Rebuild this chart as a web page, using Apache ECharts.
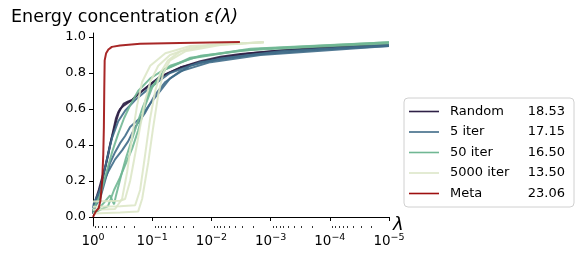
<!DOCTYPE html>
<html><head><meta charset="utf-8">
<script src="https://cdn.jsdelivr.net/npm/echarts@6/dist/echarts.min.js"></script>
<style>html,body{margin:0;padding:0;background:#fff}#c{width:581px;height:254px}</style>
</head><body><div id="c"></div>
<script>
// ---- data (lambda, energy concentration) ----
const groupNames = ['Random', '5 iter', '50 iter', '5000 iter', 'Meta'];
const groupScores = ['18.53', '17.15', '16.50', '13.50', '23.06'];
const groupColors = ['#2e2046', '#3f6b88', '#70b793', '#dde7c8', '#9e0f0f'];
const xTickValues = [1, 0.1, 0.01, 0.001, 0.0001, 0.00001];
const yTickValues = [0, 0.2, 0.4, 0.6, 0.8, 1.0];

const random_a = [[1,0.02],[0.962,0.05],[0.914,0.09],[0.8,0.15],[0.7,0.22],[0.619,0.28],[0.55,0.36],[0.5,0.42],[0.446,0.48],[0.4,0.54],[0.367,0.58],[0.33,0.61],[0.302,0.63],[0.26,0.64],[0.218,0.65],[0.18,0.68],[0.148,0.7],[0.1,0.745],[0.0734,0.78],[0.05,0.805],[0.0335,0.83],[0.0154,0.865],[0.00703,0.89],[0.00322,0.905],[0.00148,0.915],[0.00068,0.925],[0.00031,0.932],[0.000142,0.94],[0.00005,0.947],[0.00001,0.955]];
const random_b = [[1,0.02],[0.962,0.04],[0.855,0.1],[0.761,0.16],[0.677,0.22],[0.626,0.27],[0.557,0.34],[0.515,0.4],[0.476,0.45],[0.441,0.5],[0.408,0.55],[0.377,0.58],[0.349,0.6],[0.298,0.62],[0.255,0.635],[0.218,0.65],[0.187,0.67],[0.148,0.7],[0.1,0.745],[0.06,0.79],[0.0335,0.83],[0.0154,0.86],[0.00703,0.885],[0.00218,0.91],[0.00068,0.925],[0.000142,0.94],[0.00001,0.953]];

const iter5_a = [[1,0.02],[0.962,0.04],[0.761,0.15],[0.602,0.3],[0.476,0.44],[0.377,0.53],[0.287,0.59],[0.194,0.65],[0.108,0.72],[0.05,0.8],[0.0154,0.86],[0.00218,0.9],[0.000142,0.93],[0.00001,0.95]];
const iter5_b = [[1,0.03],[0.962,0.05],[0.761,0.1],[0.626,0.2],[0.515,0.3],[0.424,0.36],[0.349,0.41],[0.287,0.45],[0.236,0.5],[0.16,0.55],[0.108,0.63],[0.073,0.7],[0.05,0.77],[0.0227,0.84],[0.00703,0.88],[0.00068,0.92],[0.00001,0.955]];
const iter5_c = [[1,0.05],[0.962,0.08],[0.761,0.15],[0.557,0.25],[0.424,0.32],[0.323,0.37],[0.255,0.42],[0.194,0.5],[0.131,0.58],[0.089,0.68],[0.06,0.75],[0.0335,0.81],[0.0104,0.86],[0.00148,0.9],[0.00001,0.95]];

const iter50_a = [[1,0.03],[0.962,0.05],[0.761,0.12],[0.602,0.24],[0.476,0.36],[0.377,0.46],[0.298,0.55],[0.236,0.62],[0.173,0.7],[0.108,0.77],[0.05,0.84],[0.0154,0.895],[0.00148,0.935],[0.00001,0.97]];
const iter50_b = [[1,0.02],[0.889,0.03],[0.651,0.08],[0.515,0.12],[0.441,0.07],[0.408,0.12],[0.323,0.25],[0.276,0.33],[0.236,0.4],[0.187,0.5],[0.148,0.6],[0.108,0.71],[0.06,0.82],[0.0227,0.88],[0.00322,0.925],[0.00001,0.965]];
const iter50_c = [[1,0.02],[0.761,0.04],[0.557,0.06],[0.441,0.15],[0.349,0.22],[0.276,0.3],[0.218,0.38],[0.173,0.48],[0.131,0.62],[0.1,0.72],[0.06,0.82],[0.0227,0.885],[0.00218,0.935],[0.00001,0.97]];

const iter5000_a = [[1,0.086],[0.349,0.09],[0.287,0.1],[0.236,0.2],[0.194,0.35],[0.16,0.5],[0.131,0.65],[0.108,0.75],[0.079,0.84],[0.05,0.9],[0.0227,0.94],[0.00703,0.96],[0.00131,0.97]];
const iter5000_b = [[1,0.057],[0.349,0.06],[0.194,0.065],[0.16,0.15],[0.131,0.35],[0.108,0.55],[0.089,0.7],[0.073,0.8],[0.054,0.87],[0.0335,0.92],[0.0104,0.955],[0.00131,0.97]];
const iter5000_c = [[1,0.02],[0.349,0.025],[0.173,0.03],[0.148,0.1],[0.117,0.3],[0.096,0.5],[0.079,0.68],[0.065,0.8],[0.05,0.87],[0.0276,0.92],[0.00703,0.955],[0.00131,0.97]];
const iter5000_d = [[1,0.04],[0.424,0.045],[0.323,0.1],[0.265,0.25],[0.218,0.45],[0.18,0.62],[0.148,0.75],[0.108,0.84],[0.06,0.91],[0.0227,0.95],[0.00131,0.97]];

const meta = [[1,0],[0.962,0.01],[0.9,0.03],[0.8,0.05],[0.75,0.09],[0.7,0.2],[0.67,0.35],[0.655,0.5],[0.645,0.71],[0.635,0.87],[0.6,0.91],[0.55,0.93],[0.48,0.945],[0.35,0.953],[0.16,0.962],[0.034,0.967],[0.0033,0.972]];

const groups = [
  [random_a, random_b],
  [iter5_a, iter5_b, iter5_c],
  [iter50_a, iter50_b, iter50_c],
  [iter5000_a, iter5000_b, iter5000_c, iter5000_d],
  [meta]
];

// minor tick positions (2..9 x 10^k)
const minorTicks = [];
for (let k = 1; k <= 5; k++) for (let m = 2; m <= 9; m++) minorTicks.push(m * Math.pow(10, -k));

const FONT = 'DejaVu Sans';
const series = [];
groups.forEach((lines, gi) => {
  lines.forEach(d => {
    series.push({
      type: 'line', name: groupNames[gi], data: d, xAxisIndex: 0, yAxisIndex: 0,
      showSymbol: false, symbol: 'none', smooth: false, silent: true,
      lineStyle: { color: groupColors[gi], width: 2, opacity: 0.9 },
      itemStyle: { color: groupColors[gi] },
      z: 2 + gi
    });
  });
});

const chart = echarts.init(document.getElementById('c'), null, { renderer: 'canvas' });
chart.setOption({
  animation: false,
  title: {
    text: 'Energy concentration {i|ε(λ)}',
    left: 6, top: 3,
    textStyle: { fontFamily: FONT, fontSize: 17.5, fontWeight: 'normal', color: '#000',
      rich: { i: { fontFamily: FONT, fontSize: 17.5, fontStyle: 'italic', color: '#000' } } }
  },
  graphic: [{
    type: 'text', left: 393, top: 216, silent: true,
    style: { text: 'λ', fill: '#000', font: 'italic 18px "DejaVu Sans"' }
  }],
  grid: { left: 93, right: 192, top: 33, bottom: 28 },
  xAxis: [{
    type: 'log', logBase: 10, min: 0.00001, max: 1, inverse: true,
    axisLine: { show: true, lineStyle: { color: '#000', width: 1 } },
    axisTick: { show: true, length: 4, customValues: xTickValues, lineStyle: { color: '#000', width: 1 } },
    axisLabel: {
      show: true, customValues: xTickValues, margin: 7, color: '#000',
      fontFamily: FONT, fontSize: 13.5,
      formatter: v => {
        const e = Math.round(Math.log10(v));
        return '{b|10}{s|' + (e === 0 ? '0' : '−' + (-e)) + '}';
      },
      rich: {
        b: { fontFamily: FONT, fontSize: 13.5, color: '#000' },
        s: { fontFamily: FONT, fontSize: 9.5, color: '#000', padding: [0, 0, 7, 0] }
      }
    },
    splitLine: { show: false }
  }, {
    type: 'log', logBase: 10, min: 0.00001, max: 1, inverse: true, gridIndex: 0, position: 'bottom',
    axisLine: { show: false },
    axisTick: { show: true, length: 2, customValues: minorTicks, lineStyle: { color: '#000', width: 0.8 } },
    axisLabel: { show: false },
    splitLine: { show: false }
  }],
  yAxis: {
    type: 'value', min: -0.05, max: 1.022,
    axisLine: { show: true, lineStyle: { color: '#000', width: 1 } },
    axisTick: { show: true, length: 4, customValues: yTickValues, lineStyle: { color: '#000', width: 1 } },
    axisLabel: { show: true, customValues: yTickValues, margin: 7, color: '#000', fontFamily: FONT, fontSize: 13,
      formatter: v => v.toFixed(1) },
    splitLine: { show: false }
  },
  legend: {
    orient: 'vertical', left: 404, top: 98,
    padding: [5.5, 9, 5.5, 5], itemGap: 4.5,
    itemWidth: 30, itemHeight: 1.6, icon: 'rect',
    itemStyle: { borderWidth: 0 },
    lineStyle: { width: 0 },
    borderColor: '#d0d0d0', borderWidth: 1, borderRadius: 4, backgroundColor: '#fff',
    data: groupNames,
    formatter: name => '{n|' + name + '}{v|' + groupScores[groupNames.indexOf(name)] + '}',
    textStyle: {
      fontFamily: FONT, fontSize: 13, color: '#000', lineHeight: 16, padding: [0, 0, 0, 6],
      rich: {
        n: { fontFamily: FONT, fontSize: 13, color: '#000', width: 70, lineHeight: 16 },
        v: { fontFamily: FONT, fontSize: 13, color: '#000', width: 45, align: 'right', lineHeight: 16 }
      }
    }
  },
  series: series
});
</script></body></html>
